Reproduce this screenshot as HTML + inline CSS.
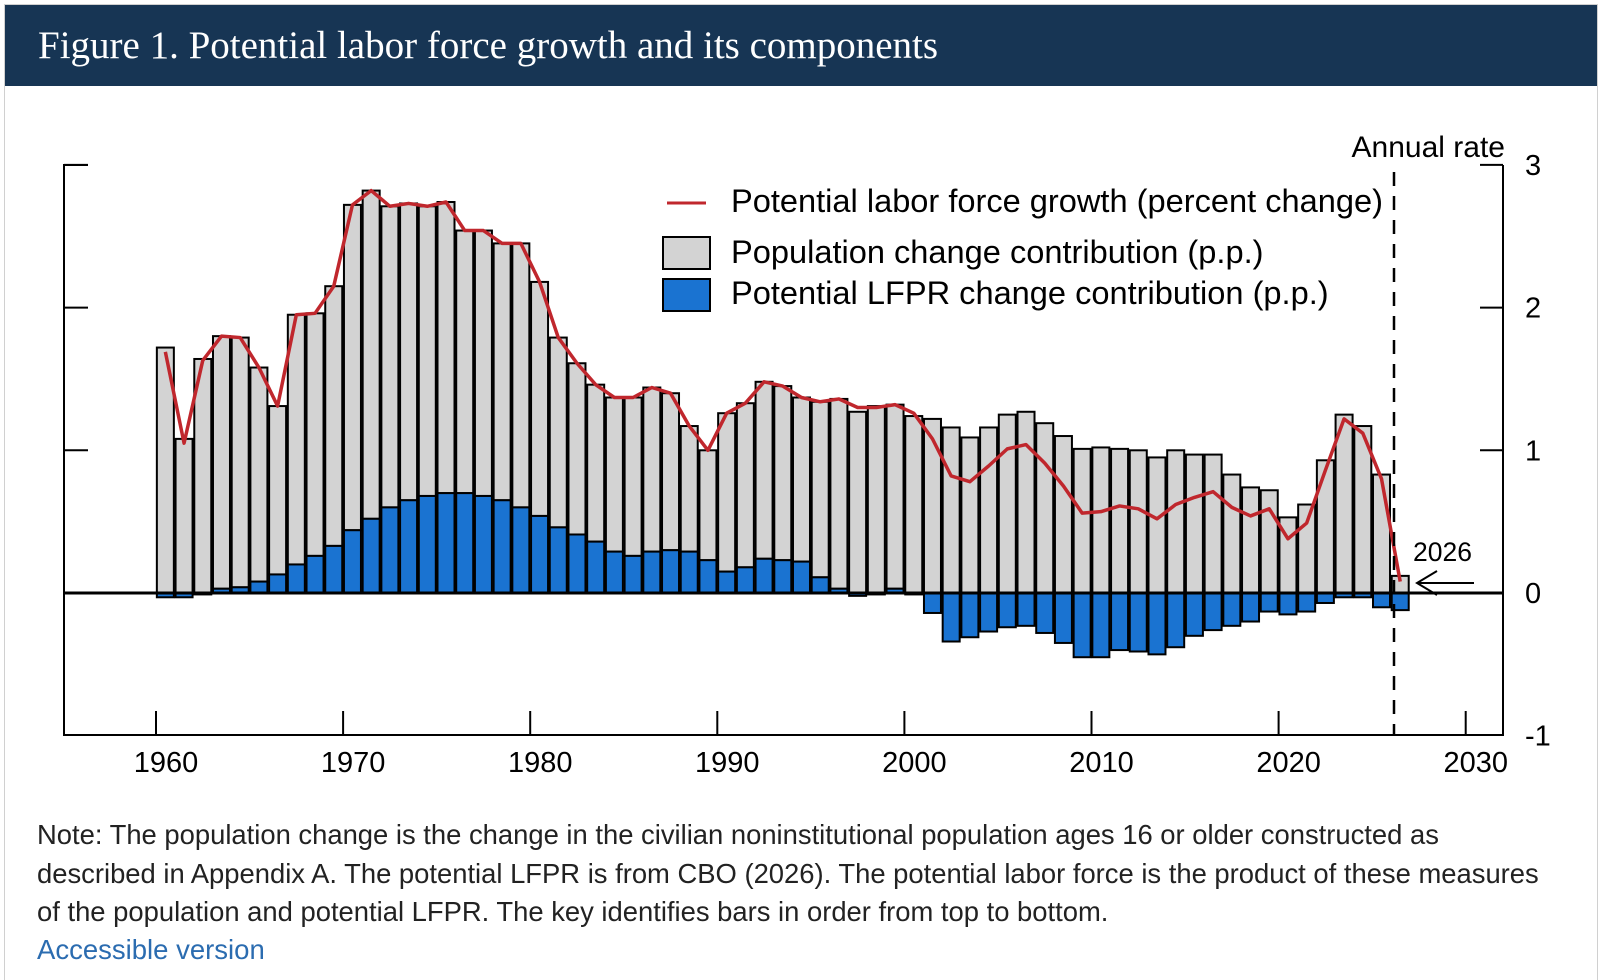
<!DOCTYPE html>
<html><head><meta charset="utf-8"><style>
body{margin:0;background:#fff;width:1600px;height:974px;overflow:hidden;font-family:"Liberation Sans",sans-serif}
#fig{position:absolute;left:4px;top:4px;width:1592px;height:975px;border:1px solid #d0d0d0;border-bottom:none}
#title{position:absolute;left:0;top:0;width:1592px;height:81px;background:#173554;color:#fff;font-family:"Liberation Serif",serif;font-size:39px;line-height:81px;padding-left:33px;box-sizing:border-box;white-space:nowrap}
.note{position:absolute;left:37px;font-size:27.4px;color:#222;white-space:nowrap}
svg{position:absolute;left:0;top:0}
</style></head><body>
<div id="fig">
<div id="title">Figure 1. Potential labor force growth and its components</div>
</div>
<svg id="chart" width="1600" height="974"></svg>
<div class="note" style="top:819px">Note: The population change is the change in the civilian noninstitutional population ages 16 or older constructed as</div>
<div class="note" style="top:858px">described in Appendix A. The potential LFPR is from CBO (2026). The potential labor force is the product of these measures</div>
<div class="note" style="top:896px">of the population and potential LFPR. The key identifies bars in order from top to bottom.</div>
<div class="note" style="top:934px;color:#2b6cb0;font-size:27.5px">Accessible version</div>
<script>
const years=[1960,1961,1962,1963,1964,1965,1966,1967,1968,1969,1970,1971,1972,1973,1974,1975,1976,1977,1978,1979,1980,1981,1982,1983,1984,1985,1986,1987,1988,1989,1990,1991,1992,1993,1994,1995,1996,1997,1998,1999,2000,2001,2002,2003,2004,2005,2006,2007,2008,2009,2010,2011,2012,2013,2014,2015,2016,2017,2018,2019,2020,2021,2022,2023,2024,2025,2026];
const popContribution=[1.72,1.08,1.64,1.77,1.75,1.50,1.18,1.75,1.70,1.82,2.28,2.30,2.11,2.08,2.03,2.04,1.84,1.86,1.80,1.85,1.64,1.33,1.20,1.10,1.08,1.11,1.15,1.10,0.88,0.77,1.11,1.15,1.24,1.22,1.15,1.23,1.33,1.27,1.31,1.29,1.24,1.22,1.16,1.09,1.16,1.25,1.27,1.19,1.10,1.01,1.02,1.01,1.00,0.95,1.00,0.97,0.97,0.83,0.74,0.72,0.53,0.62,0.93,1.25,1.17,0.83,0.12];
const lfprContribution=[-0.03,-0.03,-0.01,0.03,0.04,0.08,0.13,0.20,0.26,0.33,0.44,0.52,0.60,0.65,0.68,0.70,0.70,0.68,0.65,0.60,0.54,0.46,0.41,0.36,0.29,0.26,0.29,0.30,0.29,0.23,0.15,0.18,0.24,0.23,0.22,0.11,0.03,-0.02,-0.01,0.03,-0.01,-0.14,-0.34,-0.31,-0.27,-0.24,-0.23,-0.28,-0.35,-0.45,-0.45,-0.40,-0.41,-0.43,-0.38,-0.30,-0.26,-0.23,-0.20,-0.13,-0.15,-0.13,-0.07,-0.03,-0.03,-0.10,-0.12];
const laborGrowth=[1.69,1.05,1.63,1.80,1.79,1.58,1.31,1.95,1.96,2.15,2.72,2.82,2.71,2.73,2.71,2.74,2.54,2.54,2.45,2.45,2.18,1.79,1.61,1.46,1.37,1.37,1.44,1.40,1.17,1.00,1.26,1.33,1.48,1.45,1.37,1.34,1.36,1.30,1.30,1.32,1.26,1.08,0.82,0.78,0.89,1.01,1.04,0.91,0.75,0.56,0.57,0.61,0.59,0.52,0.62,0.67,0.71,0.60,0.54,0.59,0.38,0.49,0.86,1.22,1.12,0.80,0.08];
const yTicks=[-1,0,1,2,3];
const xTicks=[1960,1970,1980,1990,2000,2010,2020,2030];

const NS='http://www.w3.org/2000/svg';
const svg=document.getElementById('chart');
const L=64,R=1503,TOP=165,BOT=735;
const yv=v=>593-v*142.7;
const xv=yr=>156+(yr-1960)*18.71;
const BW=17;
function mk(tag,attrs,parent){const e=document.createElementNS(NS,tag);for(const k in attrs)e.setAttribute(k,attrs[k]);(parent||svg).appendChild(e);return e;}
const gBars=mk('g',{});


years.forEach((yr,i)=>{
  const p=popContribution[i],l=lfprContribution[i];
  const cx=xv(yr+0.5);
  const base=l>0?l:0;
  const r1=mk('rect',{x:cx-BW/2,y:yv(base+p),width:BW,height:yv(base)-yv(base+p),fill:'#d3d3d3',stroke:'#000','stroke-width':2},gBars);
  
  
  const top=Math.max(l,0),bot=Math.min(l,0);
  const r2=mk('rect',{x:cx-BW/2,y:yv(top),width:BW,height:Math.max(yv(bot)-yv(top),0.5),fill:'#1a73d1',stroke:'#000','stroke-width':2},gBars);
  
  
});
const ax=mk('path',{d:`M${L+24} ${TOP}H${L}V${BOT}H${R}V${TOP}`,fill:'none',stroke:'#000','stroke-width':2});


const zl=mk('line',{x1:L,x2:R,y1:yv(0),y2:yv(0),stroke:'#000','stroke-width':3});


yTicks.forEach(v=>{
  if(v>-1){const t=mk('line',{x1:R-23,x2:R,y1:yv(v),y2:yv(v),stroke:'#000','stroke-width':2});
  
  
  const t2=mk('line',{x1:L,x2:L+24,y1:yv(v),y2:yv(v),stroke:'#000','stroke-width':2});
  
  }
  const tx=mk('text',{x:1525,y:yv(v)+10,'font-size':29,'font-family':'Liberation Sans, sans-serif'});
  tx.textContent=v;
  
  
});
xTicks.forEach(yr=>{
  const t=mk('line',{x1:xv(yr),x2:xv(yr),y1:BOT,y2:BOT-24,stroke:'#000','stroke-width':2});
  
  
  const tx=mk('text',{x:xv(yr)+10,y:772,'font-size':29,'text-anchor':'middle','font-family':'Liberation Sans, sans-serif'});
  tx.textContent=yr;
  
  
});
const pts=years.map((yr,i)=>xv(yr+0.5)+','+yv(laborGrowth[i])).join(' ');
const pl=mk('polyline',{points:pts,fill:'none',stroke:'#c0272d','stroke-width':3.5,'stroke-linejoin':'round'});


const dl=mk('line',{x1:1394,x2:1394,y1:172,y2:BOT,stroke:'#000','stroke-width':2.5,'stroke-dasharray':'14,10'});


const ar=mk('text',{x:1505,y:157,'font-size':30,'text-anchor':'end','font-family':'Liberation Sans, sans-serif'});
ar.textContent='Annual rate';


const l26=mk('text',{x:1413,y:561,'font-size':26.5,'font-family':'Liberation Sans, sans-serif'});
l26.textContent='2026';


const arr=mk('path',{d:'M1474 583H1417M1437 571L1417 583L1437 595',fill:'none',stroke:'#000','stroke-width':2});


const lg=mk('g',{});


const s1=mk('line',{x1:667,x2:706,y1:203,y2:203,stroke:'#c0272d','stroke-width':3},lg);


const s2=mk('rect',{x:663,y:237,width:47,height:32,fill:'#d3d3d3',stroke:'#000','stroke-width':2},lg);


const s3=mk('rect',{x:663,y:279,width:47,height:32,fill:'#1a73d1',stroke:'#000','stroke-width':2},lg);


[['Potential labor force growth (percent change)',212],['Population change contribution (p.p.)',263],['Potential LFPR change contribution (p.p.)',304]].forEach(([t,y])=>{
  const e=mk('text',{x:731,y:y,'font-size':32.6,'font-family':'Liberation Sans, sans-serif'},lg);
  e.textContent=t;
  
  
});
</script>
</body></html>
